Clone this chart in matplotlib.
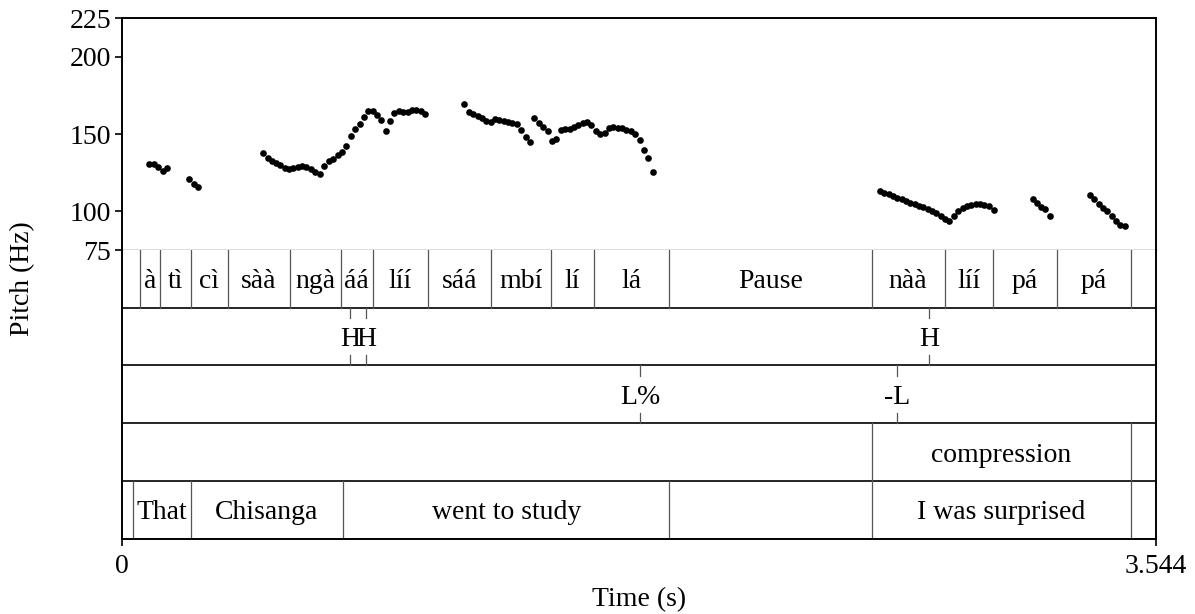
import matplotlib
matplotlib.use('Agg')
import matplotlib.pyplot as plt

plt.rcParams['font.family'] = ['Liberation Serif', 'DejaVu Serif']
plt.rcParams['font.size'] = 20

t_end = 3.544

# pitch track, one list per voiced stretch: time (s) and f0 (Hz)
seg_t = [
    [0.0936, 0.1097, 0.1244, 0.1395, 0.1553],
    [0.2296, 0.2457, 0.2595],
    [0.4843, 0.4994, 0.5131, 0.5278, 0.5426, 0.5576, 0.5724, 0.5871, 0.6022, 0.6169,
     0.6317, 0.6468, 0.6615, 0.6776, 0.6934, 0.7085, 0.7242, 0.7393, 0.7540, 0.7688,
     0.7849, 0.7996, 0.8157, 0.8305, 0.8442, 0.8593, 0.8740, 0.8888, 0.9038, 0.9186,
     0.9333, 0.9494, 0.9642, 0.9792, 0.9940, 1.0077, 1.0238, 1.0396],
    [1.1732, 1.1893, 1.2041, 1.2191, 1.2339, 1.2486, 1.2637, 1.2784, 1.2932, 1.3083,
     1.3230, 1.3378, 1.3528, 1.3686, 1.3837, 1.3984],
    [1.4131, 1.4293, 1.4440, 1.4591],
    [1.4728, 1.4886, 1.5036, 1.5194, 1.5345, 1.5492, 1.5640, 1.5791, 1.5938, 1.6085,
     1.6236, 1.6393, 1.6545, 1.6692, 1.6839, 1.6990, 1.7137, 1.7285, 1.7436, 1.7593,
     1.7744, 1.7891, 1.8039, 1.8190],
    [2.5980, 2.6128, 2.6278, 2.6426, 2.6573, 2.6724, 2.6872, 2.7019, 2.7170, 2.7317,
     2.7465, 2.7615, 2.7763, 2.7910, 2.8061, 2.8208, 2.8356, 2.8517, 2.8664, 2.8815,
     2.8962, 2.9110, 2.9261, 2.9408, 2.9555, 2.9706, 2.9888],
    [3.1214, 3.1351, 3.1488, 3.1636, 3.1807],
    [3.3178, 3.3326, 3.3476, 3.3624, 3.3771, 3.3922, 3.4069, 3.4217, 3.4378],
]
seg_f0 = [
    [130.6, 130.6, 128.5, 126.1, 127.9],
    [120.7, 117.5, 115.5],
    [137.7, 134.5, 132.3, 131.0, 129.7, 128.0, 127.6, 128.2, 128.5, 129.1,
     128.5, 127.2, 125.4, 124.1, 129.3, 132.5, 133.8, 136.4, 138.5, 142.2,
     148.9, 153.0, 156.4, 161.2, 164.9, 165.0, 162.5, 158.8, 152.1, 158.2,
     163.6, 165.0, 164.4, 164.0, 165.3, 165.5, 165.0, 162.9],
    [169.2, 164.2, 162.7, 161.6, 160.1, 158.6, 157.9, 159.7, 159.0, 158.4,
     157.7, 157.3, 156.3, 152.4, 148.2, 144.8],
    [160.5, 157.3, 154.7, 151.9],
    [145.5, 147.0, 152.4, 153.0, 153.2, 154.5, 156.0, 156.9, 157.5, 156.0,
     151.9, 149.8, 150.8, 154.1, 154.3, 153.9, 153.7, 152.8, 151.7, 150.0,
     145.9, 139.4, 134.5, 125.4],
    [112.9, 111.8, 111.0, 109.9, 108.8, 107.7, 106.7, 105.6, 104.5, 103.7,
     102.6, 101.5, 100.4, 98.9, 97.2, 95.2, 93.5, 97.0, 100.0, 102.0,
     103.4, 104.3, 104.7, 104.7, 104.3, 103.7, 100.9],
    [107.7, 105.2, 103.0, 101.3, 97.2],
    [110.8, 107.7, 104.7, 102.4, 100.2, 97.0, 93.5, 91.2, 90.5],
]

pitch_ticks = [75, 100, 150, 200, 225]

# tier 1: syllables
syl_bounds = [0.0627, 0.1292, 0.2365, 0.3623, 0.5748, 0.7496, 0.8593, 1.0498, 1.2637,
              1.4693, 1.6177, 1.8758, 2.5696, 2.8198, 2.9870, 3.2036, 3.4573]
syl_labels = ['à', 'tì', 'cì', 'sàà', 'ngà', 'áá', 'líí', 'sáá', 'mbí', 'lí', 'lá',
              'Pause', 'nàà', 'líí', 'pá', 'pá']
# tier 2: tones (points)
tone_times = [0.7825, 0.8363, 2.7659]
tone_labels = ['H', 'H', 'H']
# tier 3: boundary tones (points)
bnd_times = [1.7754, 2.6573]
bnd_labels = ['L%', '-L']
# tier 4
comp_bounds = [2.5696, 3.4573]
comp_labels = ['compression']
# tier 5: gloss
gloss_bounds = [0.0377, 0.2365, 0.7575, 1.8758, 2.5696, 3.4573]
gloss_labels = ['That', 'Chisanga', 'went to study', '', 'I was surprised']

W, H = 1195, 614
x0, x1 = 122, 1156
y_top, y_mid, y_bot = 18, 250, 538.7

fig = plt.figure(figsize=(W / 100, H / 100), dpi=100)

ax = fig.add_axes([x0 / W, 1 - y_mid / H, (x1 - x0) / W, (y_mid - y_top) / H])
for ts, fs in zip(seg_t, seg_f0):
    ax.plot(ts, fs, 'o', color='black', ms=4.8, mew=0)
ax.set_xlim(0, t_end)
ax.set_ylim(75, 225)
ax.set_yticks(pitch_ticks)
ax.set_xticks([])
ax.tick_params(axis='y', direction='out', length=5, width=1.2, pad=3)
for s in ['left', 'top', 'right']:
    ax.spines[s].set_linewidth(1.4)
ax.spines['bottom'].set_color('#555555')
ax.spines['bottom'].set_linewidth(1.0)

tx = fig.add_axes([x0 / W, 1 - y_bot / H, (x1 - x0) / W, (y_bot - y_mid) / H])
tx.set_xlim(0, t_end)
tx.set_ylim(5, 0)
tx.set_yticks([])
tx.set_xticks([0, t_end])
tx.set_xticklabels(['0', '3.544'])
tx.tick_params(axis='x', direction='out', length=5, width=1.2, pad=6)
tx.spines['top'].set_visible(False)
for s in ['left', 'bottom', 'right']:
    tx.spines[s].set_linewidth(1.4)
for k in range(1, 5):
    tx.axhline(k, color='black', lw=1.2)

base = 0.665


def interval_tier(row, bounds, labels):
    for b in bounds:
        tx.plot([b, b], [row, row + 1], color='#555555', lw=0.9)
    for a, b, lab in zip(bounds[:-1], bounds[1:], labels):
        tx.text((a + b) / 2, row + base, lab, ha='center', va='baseline')


def point_tier(row, times, labels):
    for t, lab in zip(times, labels):
        tx.plot([t, t], [row, row + 0.18], color='#555555', lw=0.9)
        tx.plot([t, t], [row + 0.82, row + 1], color='#555555', lw=0.9)
        tx.text(t, row + base, lab, ha='center', va='baseline')


interval_tier(0, syl_bounds, syl_labels)
point_tier(1, tone_times, tone_labels)
point_tier(2, bnd_times, bnd_labels)
interval_tier(3, comp_bounds, comp_labels)
interval_tier(4, gloss_bounds, gloss_labels)

fig.text(23 / W, 1 - (y_top + y_bot) / 2 / H, 'Pitch (Hz)', rotation=90,
         ha='center', va='center')
fig.text((x0 + x1) / 2 / W, 1 - 600 / H, 'Time (s)', ha='center', va='center')

fig.savefig('out.png', dpi=100)
